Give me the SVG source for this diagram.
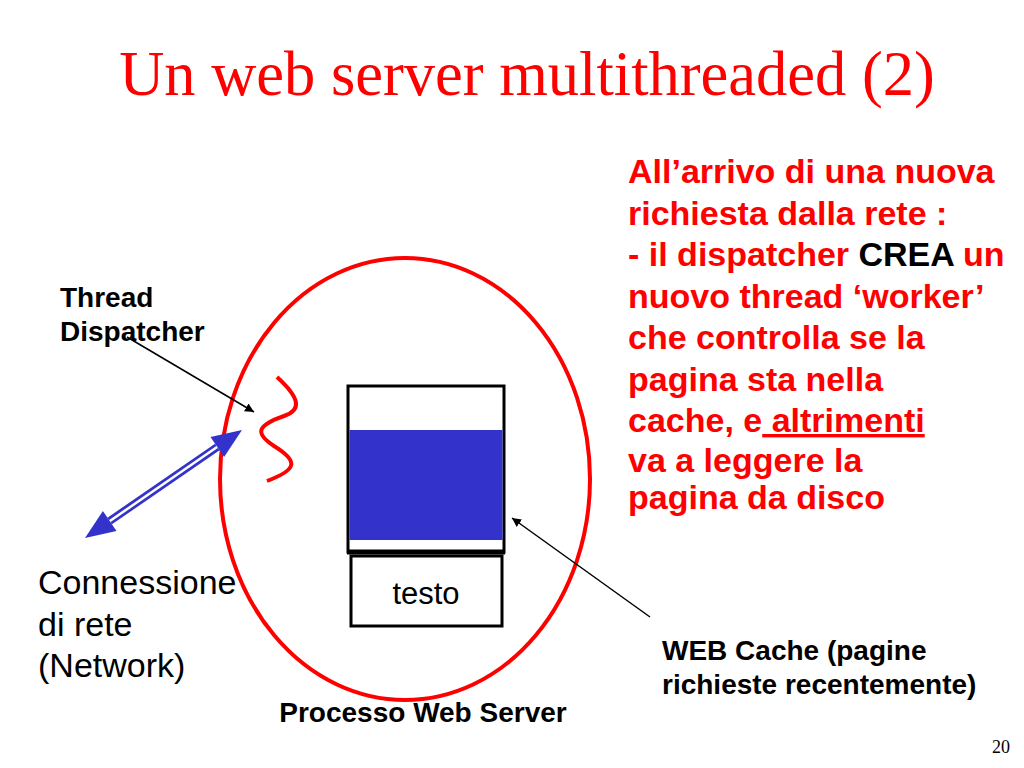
<svg xmlns="http://www.w3.org/2000/svg" width="1024" height="768" viewBox="0 0 1024 768">
<style>
.title{font-family:"Liberation Serif",serif;font-size:62.5px;fill:#ff0000}
.sans{font-family:"Liberation Sans",Arial,sans-serif}
.bold{font-weight:bold}
.red{fill:#ff0000}
.blk{fill:#000}
.thin{stroke:#000;stroke-width:1.5;fill:none}
</style>
<defs>
<marker id="ah" viewBox="0 0 10 10" refX="10" refY="5" markerWidth="9" markerHeight="9" markerUnits="userSpaceOnUse" orient="auto">
<path d="M0,0 L10,5 L0,10 Z" fill="#000"/>
</marker>
</defs>
<rect width="1024" height="768" fill="#fff"/>
<text class="title" x="527" y="95" text-anchor="middle">Un web server multithreaded (2)</text>

<g id="process">
<ellipse cx="405" cy="479" rx="185" ry="221" fill="none" stroke="#ff0000" stroke-width="4"/>
<text class="sans bold blk" x="423" y="722" font-size="28" text-anchor="middle">Processo Web Server</text>
</g>

<g id="dispatcher">
<path d="M277,377 C300,398 302,410 284,416 C255,426 256,434 274,446 C300,462 296,470 267,481" fill="none" stroke="#ff0000" stroke-width="4"/>
<text class="sans bold blk" font-size="28" x="60" y="307">Thread</text>
<text class="sans bold blk" font-size="28" x="60" y="341">Dispatcher</text>
</g>

<g id="cache">
<rect x="348" y="386" width="156" height="166" fill="#fff" stroke="#000" stroke-width="3"/>
<rect x="349.5" y="430" width="153" height="110" fill="#3333cc"/>
<line x1="347" y1="552" x2="505" y2="552" stroke="#000" stroke-width="5"/>
</g>

<g id="testo">
<rect x="351" y="556" width="151" height="70" fill="#fff" stroke="#000" stroke-width="3"/>
<text class="sans blk" x="426" y="604" font-size="31" text-anchor="middle">testo</text>
</g>

<g id="network">
<text class="sans blk" font-size="34" x="38" y="594">Connessione</text>
<text class="sans blk" font-size="34" x="38" y="636">di rete</text>
<text class="sans blk" font-size="34" x="38" y="677">(Network)</text>
</g>

<g id="webcache-label">
<text class="sans bold blk" font-size="28" x="662" y="660">WEB Cache (pagine</text>
<text class="sans bold blk" font-size="28" x="662" y="694">richieste recentemente)</text>
</g>

<g id="description" class="sans bold red" font-size="34">
<text x="628" y="183">All’arrivo di una nuova</text>
<text x="628" y="225">richiesta dalla rete :</text>
<text x="628" y="266">- il dispatcher <tspan fill="#000">CREA</tspan> un</text>
<text x="628" y="308">nuovo thread ‘worker’</text>
<text x="628" y="349">che controlla se la</text>
<text x="628" y="391">pagina sta nella</text>
<text x="628" y="432">cache, e<tspan text-decoration="underline"> altrimenti</tspan></text>
<text x="628" y="472">va a leggere la</text>
<text x="628" y="509">pagina da disco</text>
</g>

<g id="connectors">
<line class="thin" x1="127" y1="337" x2="254" y2="412" marker-end="url(#ah)"/>
<line class="thin" x1="650" y1="617" x2="512" y2="518" marker-end="url(#ah)"/>
<line x1="109.7" y1="521" x2="217.3" y2="447" stroke="#3333cc" stroke-width="8"/>
<line x1="107" y1="523" x2="220" y2="445" stroke="#fff" stroke-width="2.5"/>
<polygon points="242,430 224.1,456.9 210.5,437.1" fill="#3333cc"/>
<polygon points="85,538 116.5,530.9 102.9,511.1" fill="#3333cc"/>
</g>

<text x="1001" y="753" font-family="Liberation Serif,serif" font-size="18" text-anchor="middle" fill="#000">20</text>
</svg>
